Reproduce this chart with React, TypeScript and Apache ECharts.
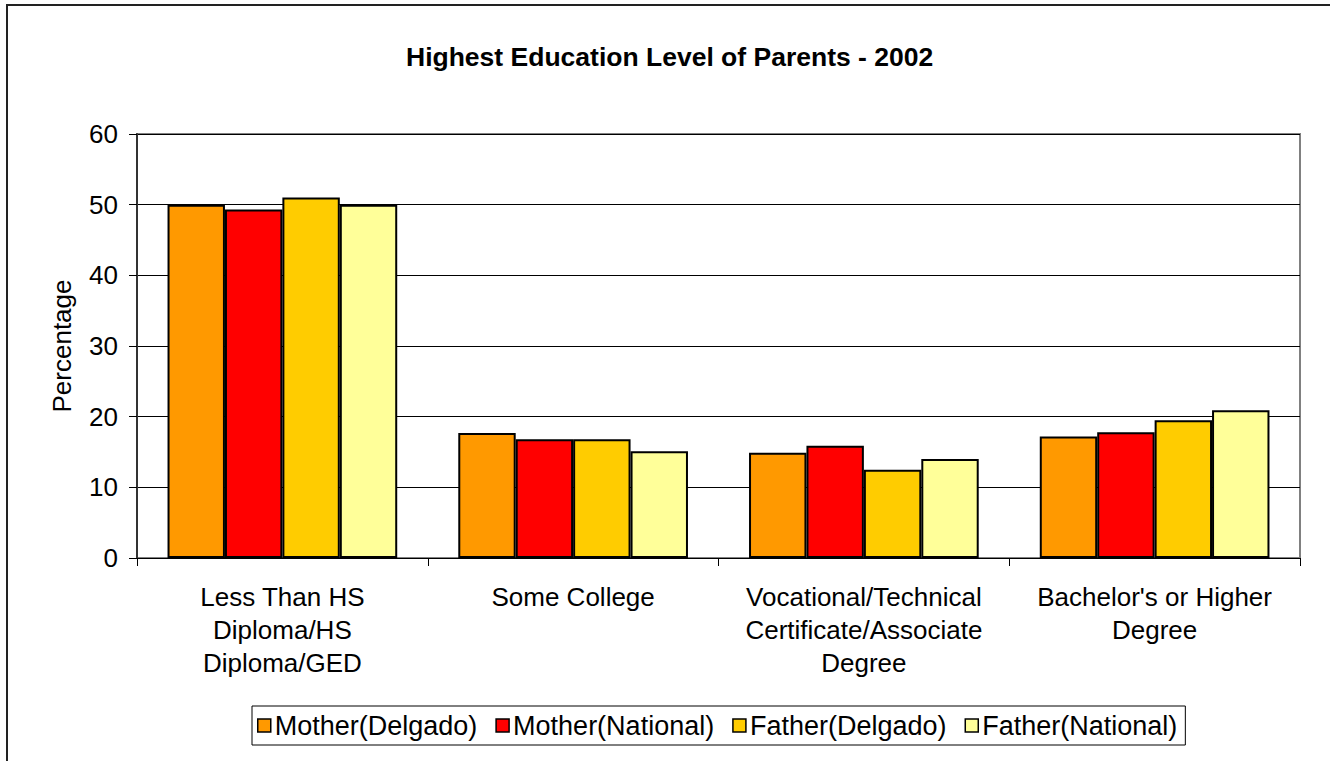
import React, { useEffect, useRef } from "react";
import * as echarts from "echarts";

const categories = [
  "Less Than HS\nDiploma/HS\nDiploma/GED",
  "Some College",
  "Vocational/Technical\nCertificate/Associate\nDegree",
  "Bachelor's or Higher\nDegree",
];
const seriesNames = ["Mother(Delgado)", "Mother(National)", "Father(Delgado)", "Father(National)"];
const motherDelgado = [50, 17.7, 14.9, 17.2];
const motherNational = [49.3, 16.8, 15.9, 17.8];
const fatherDelgado = [51, 16.8, 12.5, 19.5];
const fatherNational = [50, 15.1, 14, 20.9];
const colors = ["#FF9900", "#FF0000", "#FFCC00", "#FFFF99"];
const yTicks = [0, 10, 20, 30, 40, 50, 60];

export default function App() {
  const ref = useRef<HTMLDivElement>(null);
  useEffect(() => {
    if (!ref.current) return;
    const chart = echarts.init(ref.current, undefined, { renderer: "svg" });
    const font = "'Liberation Sans', Arial, sans-serif";
    const data = [motherDelgado, motherNational, fatherDelgado, fatherNational];
    chart.setOption({
      animation: false,
      backgroundColor: "#ffffff",
      textStyle: { fontFamily: font },
      title: {
        text: "Highest Education Level of Parents - 2002",
        left: 401,
        top: 38,
        textStyle: { fontFamily: font, fontSize: 26.5, fontWeight: "bold", color: "#000" },
      },
      graphic: [
        {
          type: "polyline",
          shape: { points: [[7, 761], [7, 5], [1330, 5]] },
          style: { stroke: "#222", lineWidth: 2, fill: "none" },
          silent: true,
        },
      ],
      grid: {
        left: 137,
        top: 134,
        right: 30,
        bottom: 203,
        show: true,
        borderColor: "#808080",
        borderWidth: 2,
        backgroundColor: "transparent",
      },
      legend: {
        data: seriesNames,
        left: 252,
        top: 706,
        width: 1050,
        itemWidth: 13,
        itemHeight: 13,
        itemGap: 18,
        icon: "rect",
        padding: [6, 8, 6, 5],
        borderColor: "#000",
        borderWidth: 1,
        itemStyle: { borderColor: "#000", borderWidth: 1.5 },
        textStyle: { fontFamily: font, fontSize: 27, color: "#000", padding: [0, 0, 0, -1] },
      },
      xAxis: {
        type: "category",
        data: categories,
        axisLine: { lineStyle: { color: "#000", width: 1 } },
        axisTick: { show: true, length: 8, alignWithLabel: false, lineStyle: { color: "#000" } },
        axisLabel: {
          interval: 0,
          margin: 22,
          fontSize: 26,
          lineHeight: 33,
          color: "#000",
          fontFamily: font,
        },
        splitLine: { show: false },
      },
      yAxis: {
        type: "value",
        min: 0,
        max: 60,
        interval: 10,
        name: "Percentage",
        nameLocation: "middle",
        nameGap: 62,
        nameTextStyle: { fontSize: 26, color: "#000", fontFamily: font },
        axisLine: { show: true, lineStyle: { color: "#333", width: 2 } },
        axisTick: { show: true, length: 8, lineStyle: { color: "#000" } },
        axisLabel: {
          fontSize: 26,
          color: "#000",
          margin: 19,
          fontFamily: font,
          formatter: (v: number) => (yTicks.includes(v) ? String(v) : ""),
        },
        splitLine: { show: true, lineStyle: { color: "#000", width: 1 } },
      },
      series: seriesNames.map((name, i) => ({
        name,
        type: "bar",
        data: data[i],
        barGap: "0%",
        barCategoryGap: "21%",
        itemStyle: { color: colors[i], borderColor: "#000", borderWidth: 2 },
      })),
    });
    return () => chart.dispose();
  }, []);
  return (
    <div
      ref={ref}
      style={{ position: "fixed", left: 0, top: 0, width: 1330, height: 761, background: "#fff" }}
    />
  );
}
